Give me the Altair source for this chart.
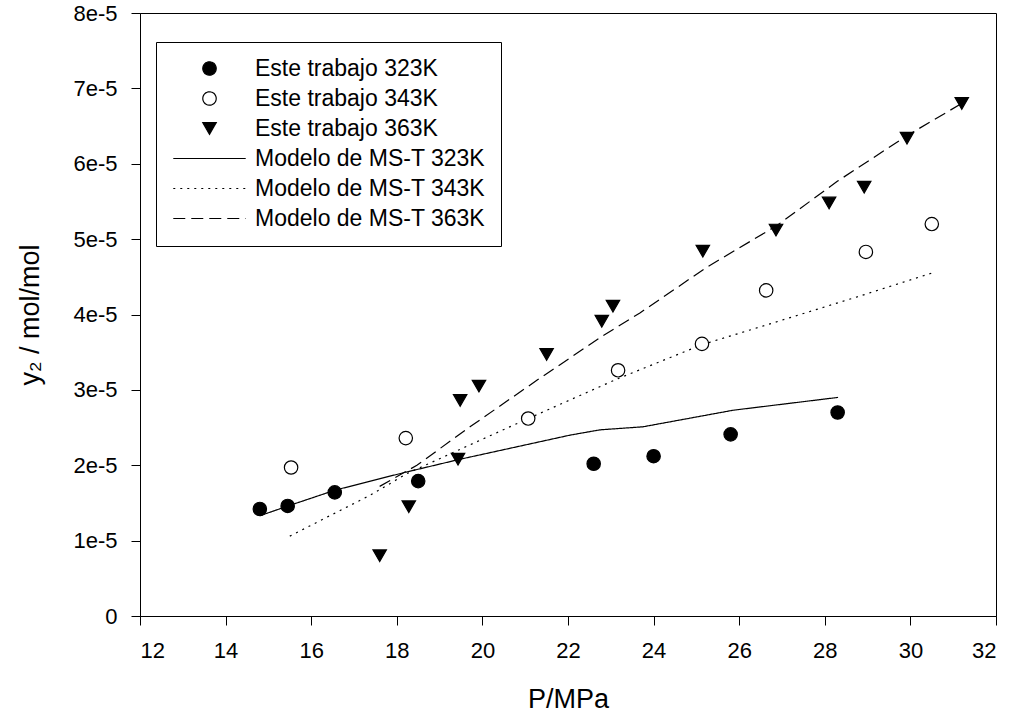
import altair as alt
import pandas as pd

SERIES = [
    "Este trabajo 323K",
    "Este trabajo 343K",
    "Este trabajo 363K",
    "Modelo de MS-T 323K",
    "Modelo de MS-T 343K",
    "Modelo de MS-T 363K",
]

# Experimental points (P in MPa, y2 in mol/mol)
p_323 = [14.8, 15.45, 16.55, 18.5, 22.6, 24.0, 25.8, 28.3]
y_323 = [1.42e-5, 1.46e-5, 1.64e-5, 1.79e-5, 2.02e-5, 2.12e-5, 2.41e-5, 2.70e-5]

p_343 = [15.53, 18.21, 21.07, 23.17, 25.13, 26.63, 28.96, 30.5]
y_343 = [1.97e-5, 2.36e-5, 2.62e-5, 3.26e-5, 3.61e-5, 4.32e-5, 4.83e-5, 5.20e-5]

p_363 = [17.6, 18.28, 19.43, 19.48, 19.92, 21.5, 22.79, 23.05, 25.15, 26.86, 28.1, 28.92, 29.92, 31.2]
y_363 = [0.80e-5, 1.45e-5, 2.08e-5, 2.86e-5, 3.05e-5, 3.47e-5, 3.91e-5, 4.11e-5,
         4.84e-5, 5.12e-5, 5.48e-5, 5.69e-5, 6.34e-5, 6.80e-5]

# Model curves
pm_323 = [14.8, 15.46, 16.56, 18.15, 19.48, 22.05, 22.75, 23.75, 25.86, 28.31]
ym_323 = [1.33e-5, 1.46e-5, 1.67e-5, 1.90e-5, 2.08e-5, 2.40e-5, 2.47e-5, 2.51e-5, 2.73e-5, 2.90e-5]

pm_343 = [15.5, 17.37, 18.24, 19.94, 21.07, 23.17, 25.13, 26.63, 28.96, 30.5]
ym_343 = [1.06e-5, 1.60e-5, 1.89e-5, 2.33e-5, 2.62e-5, 3.15e-5, 3.60e-5, 3.86e-5, 4.27e-5, 4.55e-5]

pm_363 = [17.6, 18.47, 19.71, 21.28, 22.82, 23.68, 25.25, 26.88, 28.3, 29.94, 31.2]
ym_363 = [1.72e-5, 2.00e-5, 2.51e-5, 3.13e-5, 3.72e-5, 4.02e-5, 4.63e-5, 5.18e-5, 5.77e-5, 6.38e-5, 6.80e-5]

X_TICKS = [12, 14, 16, 18, 20, 22, 24, 26, 28, 30, 32]
Y_TICKS = [0, 1e-5, 2e-5, 3e-5, 4e-5, 5e-5, 6e-5, 7e-5, 8e-5]

points = pd.concat([
    pd.DataFrame({"P": p_323, "y": y_323, "series": SERIES[0]}),
    pd.DataFrame({"P": p_343, "y": y_343, "series": SERIES[1]}),
    pd.DataFrame({"P": p_363, "y": y_363, "series": SERIES[2]}),
], ignore_index=True)

lines = pd.concat([
    pd.DataFrame({"P": pm_323, "y": ym_323, "series": SERIES[3]}),
    pd.DataFrame({"P": pm_343, "y": ym_343, "series": SERIES[4]}),
    pd.DataFrame({"P": pm_363, "y": ym_363, "series": SERIES[5]}),
], ignore_index=True)

FONT = "Liberation Sans"
LINE_PATH = "M-5.4,0L5.4,0"
shape_range = ["circle", "circle", "triangle-down", LINE_PATH, LINE_PATH, LINE_PATH]
fill_range = ["black", "white", "black", "transparent", "transparent", "transparent"]
dash_range = [[1, 0], [1, 0], [1, 0], [1, 0], [2, 5], [12, 6]]
size_range = [180, 180, 240, 180, 180, 180]

leg = dict(orient="none", legendX=16, legendY=29, title=None, direction="vertical")

x_enc = alt.X(
    "P:Q",
    scale=alt.Scale(domain=[12, 32], nice=False, zero=False),
    axis=alt.Axis(values=X_TICKS, title="P/MPa", format="d"),
)
y_enc = alt.Y(
    "y:Q",
    scale=alt.Scale(domain=[0, 8e-5], nice=False),
    axis=alt.Axis(
        values=Y_TICKS,
        title="y₂ / mol/mol",
        labelExpr="datum.value == 0 ? '0' : format(round(datum.value * 1e5), 'd') + 'e-5'",
    ),
)

line_layer = alt.Chart(lines).mark_line(color="black", strokeWidth=1.2).encode(
    x=x_enc,
    y=y_enc,
    strokeDash=alt.StrokeDash(
        "series:N",
        scale=alt.Scale(domain=SERIES, range=dash_range),
        legend=alt.Legend(**leg),
    ),
)

point_layer = alt.Chart(points).mark_point(opacity=1, strokeWidth=1.2).encode(
    x=x_enc,
    y=y_enc,
    shape=alt.Shape(
        "series:N",
        scale=alt.Scale(domain=SERIES, range=shape_range),
        legend=alt.Legend(**leg),
    ),
    fill=alt.Fill(
        "series:N",
        scale=alt.Scale(domain=SERIES, range=fill_range),
        legend=alt.Legend(**leg),
    ),
    size=alt.Size(
        "series:N",
        scale=alt.Scale(domain=SERIES, range=size_range),
        legend=None,
    ),
    stroke=alt.value("black"),
)

chart = (
    alt.layer(line_layer, point_layer)
    .properties(
        width=856,
        height=603,
        autosize=alt.AutoSizeParams(type="none"),
        padding={"left": 140, "top": 13, "right": 17, "bottom": 99},
        background="white",
    )
    .configure_view(stroke="black", strokeWidth=1)
    .configure_axis(
        grid=False,
        domainColor="black",
        domainWidth=1,
        tickColor="black",
        tickWidth=1,
        tickSize=9,
        labelFont=FONT,
        labelFontSize=22,
        labelColor="black",
        titleFont=FONT,
        titleFontSize=27,
        titleFontWeight="normal",
        titleColor="black",
    )
    .configure_axisX(labelPadding=15, titlePadding=25)
    .configure_axisY(labelPadding=14, titlePadding=28)
    .configure_legend(
        labelFont=FONT,
        labelFontSize=23,
        labelColor="black",
        labelLimit=400,
        symbolSize=150,
        symbolStrokeWidth=1.2,
        symbolStrokeColor="black",
        symbolFillColor="black",
        symbolOffset=27,
        labelOffset=34,
        rowPadding=6,
        padding=15,
        strokeColor="black",
        fillColor="white",
        cornerRadius=0,
    )
)

chart.save("out.html", embed_options={"renderer": "svg", "actions": False})
